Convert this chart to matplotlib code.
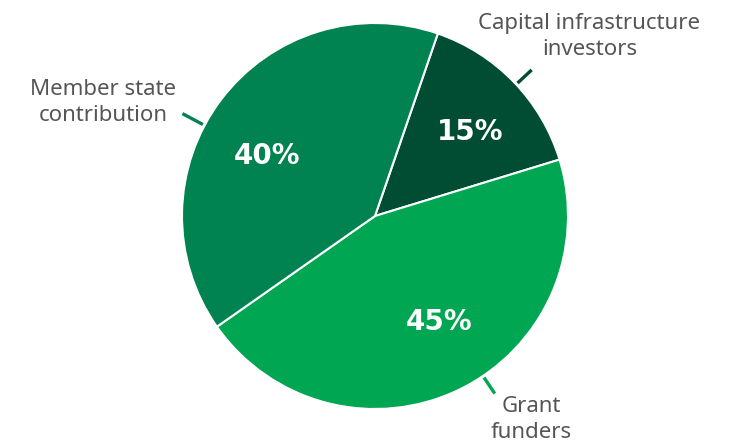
import numpy as np
import matplotlib
matplotlib.use("Agg")
import matplotlib.pyplot as plt

labels = ["Capital infrastructure\ninvestors", "Grant\nfunders", "Member state\ncontribution"]
shares = [15, 45, 40]
colors = ["#014d33", "#00a651", "#008350"]

# placement tweaks per slice (degrees, counter-clockwise) and radii
label_r = [1.45, 1.33, 1.525]
angle_shift = [-4, 11.5, 14.3]
line_shift = [-1, 8, 9]
line_end = [1.11, 1.11, 1.13]
pct_shift = [-2.5, 5, 8]
pct_r = [0.66, 0.64, 0.64]

fig = plt.figure(figsize=(7.29, 4.44), dpi=100)
ax = fig.add_axes([0, 0, 1, 1])

wedges, texts, pcts = ax.pie(
    shares,
    colors=colors,
    startangle=71,
    counterclock=False,
    radius=1,
    autopct="%d%%",
    wedgeprops=dict(edgecolor="white", linewidth=1.5),
    textprops=dict(color="white", fontsize=20, fontweight="bold", family="DejaVu Sans"),
)

R = 193.0
ax.set_xlim(-375 / R, 354 / R)
ax.set_ylim(-(444 - 216) / R, 216 / R)
ax.set_aspect("equal")
ax.axis("off")

for i, w in enumerate(wedges):
    mid = (w.theta1 + w.theta2) / 2
    p = np.deg2rad(mid + pct_shift[i])
    pcts[i].set_position((pct_r[i] * np.cos(p), pct_r[i] * np.sin(p)))
    a = np.deg2rad(mid + line_shift[i])
    r0, r1 = 1.01, line_end[i]
    ax.plot([r0 * np.cos(a), r1 * np.cos(a)], [r0 * np.sin(a), r1 * np.sin(a)],
            color=colors[i], linewidth=2.4, solid_capstyle="butt")
    b = np.deg2rad(mid + angle_shift[i])
    ax.text(label_r[i] * np.cos(b), label_r[i] * np.sin(b), labels[i],
            ha="center", va="center", fontsize=16, color="#555555",
            family="Noto Sans", linespacing=1.3)

fig.savefig("out.png", dpi=100)
